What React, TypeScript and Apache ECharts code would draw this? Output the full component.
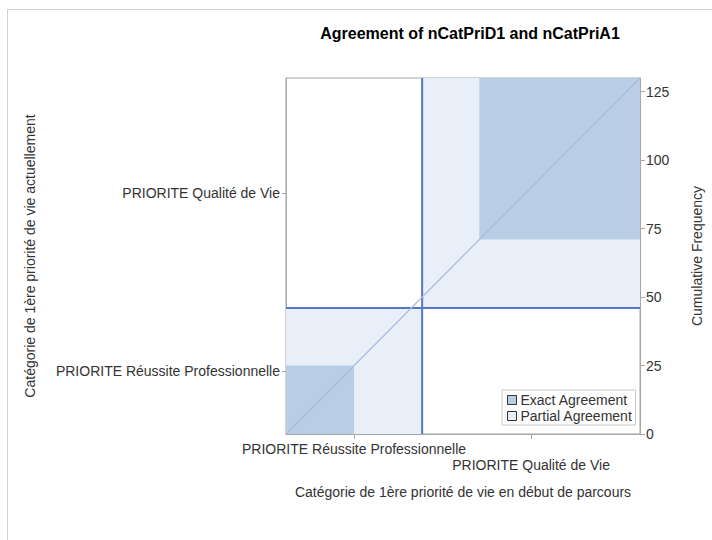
import React, { useEffect, useRef } from "react";
import * as echarts from "echarts";

// Categories (same for both variables)
const categories = ["PRIORITE Réussite Professionnelle", "PRIORITE Qualité de Vie"];
// Cell counts: rows = nCatPriA1 (y), columns = nCatPriD1 (x)
const row1Counts = [25, 21];
const row2Counts = [25, 59];
const cumTicks = [0, 25, 50, 75, 100, 125];

const FONT = "'Liberation Sans', Arial, Helvetica, sans-serif";
const FS = 14;

export default function App() {
  const ref = useRef<HTMLDivElement>(null);
  useEffect(() => {
    if (!ref.current) return;
    const chart = echarts.init(ref.current, undefined, { renderer: "svg" });
    const table = [row1Counts, row2Counts];
    const k = categories.length;
    const colTotals = categories.map((_, j) => table.reduce((s, r) => s + r[j], 0));
    const rowTotals = table.map((r) => r.reduce((s, v) => s + v, 0));
    const N = rowTotals.reduce((s, v) => s + v, 0);

    const partial: number[][] = [];
    const exact: number[][] = [];
    let cx = 0, cy = 0;
    for (let i = 0; i < k; i++) {
      partial.push([cx, cy, cx + colTotals[i], cy + rowTotals[i]]);
      let offX = 0, offY = 0;
      for (let m = 0; m < i; m++) { offX += table[m][i]; offY += table[i][m]; }
      exact.push([cx + offX, cy + offY, cx + offX + table[i][i], cy + offY + table[i][i]]);
      cx += colTotals[i];
      cy += rowTotals[i];
    }
    const xMids: number[] = [];
    const yMids: number[] = [];
    let ax = 0, ay = 0;
    for (let i = 0; i < k; i++) {
      xMids.push(ax + colTotals[i] / 2); ax += colTotals[i];
      yMids.push(ay + rowTotals[i] / 2); ay += rowTotals[i];
    }
    const refX: number[] = [];
    const refY: number[] = [];
    let sx = 0, sy = 0;
    for (let i = 0; i < k - 1; i++) { sx += colTotals[i]; sy += rowTotals[i]; refX.push(sx); refY.push(sy); }

    const rectItem = (color: string) => (params: any, api: any) => {
      const p0 = api.coord([api.value(0), api.value(1)]);
      const p1 = api.coord([api.value(2), api.value(3)]);
      return {
        type: "rect",
        shape: { x: p0[0], y: p1[1], width: p1[0] - p0[0], height: p0[1] - p1[1] },
        style: { fill: color },
      };
    };

    const labelColor = "#333";
    const axisGrey = "#a6a6a6";

    const evenX = xMids.filter((_, i) => i % 2 === 0);
    const oddX = xMids.filter((_, i) => i % 2 === 1);
    const xFmt = (v: number) => {
      const idx = xMids.findIndex((m) => Math.abs(m - v) < 1e-6);
      return idx < 0 ? "" : categories[idx];
    };

    chart.setOption({
      animation: false,
      backgroundColor: "#fff",
      textStyle: { fontFamily: FONT },
      title: {
        text: "Agreement of nCatPriD1 and nCatPriA1",
        left: 465,
        top: 20,
        textAlign: "center",
        textStyle: { fontFamily: FONT, fontSize: 16, fontWeight: "bold", color: "#000" },
      },
      grid: {
        left: 286, top: 78, width: 357, height: 356,
        show: true, borderColor: axisGrey, borderWidth: 1, backgroundColor: "transparent",
      },
      legend: {
        data: ["Exact Agreement", "Partial Agreement"],
        orient: "vertical",
        left: 502,
        top: 390,
        itemWidth: 9,
        itemHeight: 9,
        itemGap: 2,
        padding: [3, 3, 2, 5],
        borderColor: "#c8c8c8",
        borderWidth: 1,
        backgroundColor: "#fff",
        icon: "rect",
        itemStyle: { borderColor: "#333", borderWidth: 1 },
        textStyle: { fontFamily: FONT, fontSize: FS, color: labelColor, padding: [0, 0, 0, -1] },
        selectedMode: false,
      },
      xAxis: [{
        type: "value", min: 0, max: N, position: "bottom",
        name: "Catégorie de 1ère priorité de vie en début de parcours",
        nameLocation: "middle", nameGap: 51,
        nameTextStyle: { fontFamily: FONT, fontSize: FS, color: labelColor },
        axisLine: { show: true, onZero: false, lineStyle: { color: axisGrey } },
        axisTick: { show: true, length: 5, lineStyle: { color: axisGrey }, customValues: xMids },
        axisLabel: {
          show: true, fontFamily: FONT, fontSize: FS, color: labelColor, margin: 8,
          customValues: evenX, formatter: xFmt, hideOverlap: false,
        },
        splitLine: { show: false },
      }, {
        type: "value", min: 0, max: N, position: "bottom", offset: 0,
        axisLine: { show: false, onZero: false },
        axisTick: { show: false },
        axisLabel: {
          show: true, fontFamily: FONT, fontSize: FS, color: labelColor, margin: 24,
          customValues: oddX, formatter: xFmt, hideOverlap: false,
        },
        splitLine: { show: false },
      }],
      yAxis: [{
        type: "value", min: 0, max: N, position: "left",
        name: "Catégorie de 1ère priorité de vie actuellement",
        nameLocation: "middle", nameGap: 249, nameRotate: 90,
        nameTextStyle: { fontFamily: FONT, fontSize: FS, color: labelColor },
        axisLine: { show: true, onZero: false, lineStyle: { color: axisGrey } },
        axisTick: { show: true, length: 4, lineStyle: { color: axisGrey }, customValues: yMids },
        axisLabel: {
          show: true, fontFamily: FONT, fontSize: FS, color: labelColor, margin: 6,
          customValues: yMids,
          formatter: (v: number) => {
            const idx = yMids.findIndex((m) => Math.abs(m - v) < 1e-6);
            return idx < 0 ? "" : categories[idx];
          },
        },
        splitLine: { show: false },
      }, {
        type: "value", min: 0, max: N, position: "right",
        name: "Cumulative Frequency",
        nameLocation: "middle", nameGap: 50, nameRotate: 90,
        nameTextStyle: { fontFamily: FONT, fontSize: FS, color: labelColor },
        axisLine: { show: true, onZero: false, lineStyle: { color: axisGrey } },
        axisTick: { show: true, length: 5, lineStyle: { color: axisGrey }, customValues: cumTicks },
        axisLabel: {
          show: true, fontFamily: FONT, fontSize: FS, color: labelColor, margin: 6,
          customValues: cumTicks,
        },
        splitLine: { show: false },
      }],
      series: [
        {
          name: "Partial Agreement", type: "custom", xAxisIndex: 0, yAxisIndex: 0,
          renderItem: rectItem("#e9eff8"), itemStyle: { color: "#e9eff8" },
          data: partial, encode: { x: [0, 2], y: [1, 3] }, silent: true,
        },
        {
          name: "Exact Agreement", type: "custom", xAxisIndex: 0, yAxisIndex: 0,
          renderItem: rectItem("#b9cde5"), itemStyle: { color: "#b9cde5" },
          data: exact, encode: { x: [0, 2], y: [1, 3] }, silent: true,
        },
        {
          name: "diagonal", type: "line", xAxisIndex: 0, yAxisIndex: 0,
          data: [[0, 0], [N, N]], symbol: "none",
          lineStyle: { color: "#a7badf", width: 1.2 }, silent: true,
        },
        {
          name: "refs", type: "custom", xAxisIndex: 0, yAxisIndex: 0, silent: true,
          data: [[0]],
          renderItem: (params: any, api: any) => {
            const children: any[] = [];
            refX.forEach((v) => {
              const a = api.coord([v, 0]); const b = api.coord([v, N]);
              children.push({ type: "line", shape: { x1: a[0], y1: a[1], x2: b[0], y2: b[1] }, style: { stroke: "#5577c8", lineWidth: 2 } });
            });
            refY.forEach((v) => {
              const a = api.coord([0, v]); const b = api.coord([N, v]);
              children.push({ type: "line", shape: { x1: a[0], y1: a[1], x2: b[0], y2: b[1] }, style: { stroke: "#5577c8", lineWidth: 2 } });
            });
            return { type: "group", children };
          },
        },
      ],
      graphic: [
        { type: "line", shape: { x1: 7.5, y1: 9.5, x2: 712, y2: 9.5 }, style: { stroke: "#d0d0d0", lineWidth: 1 } },
        { type: "line", shape: { x1: 7.5, y1: 9.5, x2: 7.5, y2: 540 }, style: { stroke: "#d0d0d0", lineWidth: 1 } },
      ],
    });
    return () => chart.dispose();
  }, []);
  return (
    <div
      ref={ref}
      style={{ position: "fixed", left: 0, top: 0, width: 712, height: 540, background: "#fff" }}
    />
  );
}
